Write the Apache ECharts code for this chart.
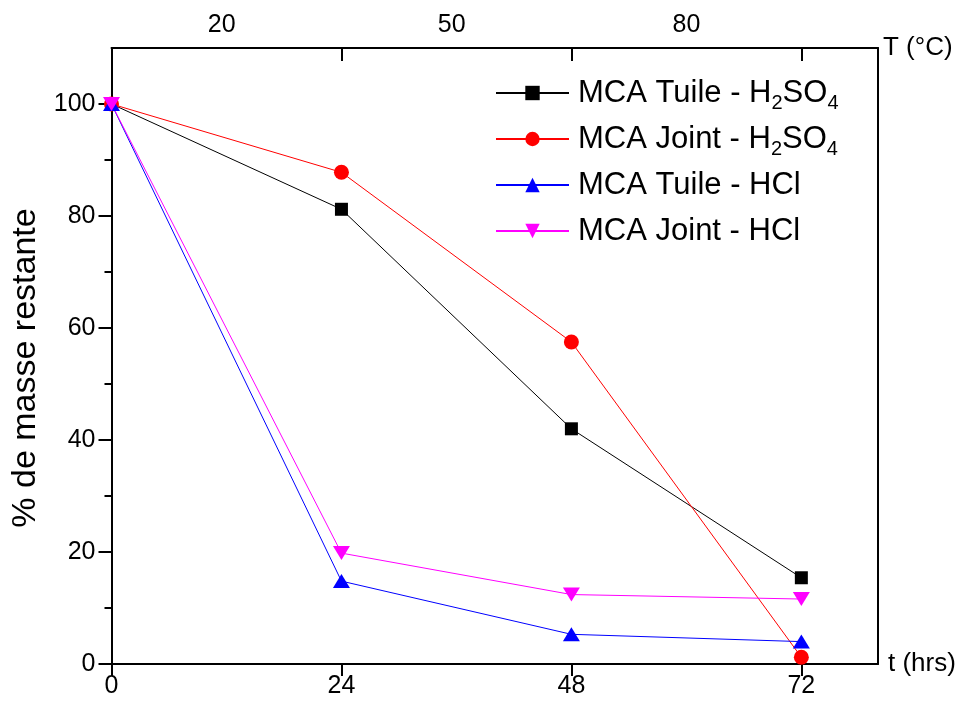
<!DOCTYPE html>
<html>
<head>
<meta charset="utf-8">
<script src="https://cdn.jsdelivr.net/npm/echarts@6/dist/echarts.min.js"></script>
<style>html,body{margin:0;padding:0;background:#fff}#c{width:960px;height:707px}</style>
</head>
<body>
<div id="c"></div>
<script>
const hours = [0, 24, 48, 72];
const tuileH2SO4 = [100, 81.2, 42.0, 15.4];
const jointH2SO4 = [100, 87.8, 57.5, 1.2];
const tuileHCl = [100, 14.8, 5.3, 4.0];
const jointHCl = [100, 19.8, 12.4, 11.6];
const seriesNames = ['MCA Tuile - H2SO4', 'MCA Joint - H2SO4', 'MCA Tuile - HCl', 'MCA Joint - HCl'];
const hourTicks = [0, 24, 48, 72];
const tempTickPos = [24, 48, 72];
const tempLabelPos = [11.5, 35.5, 60];
const tempLabels = ['20', '50', '80'];
const yMajor = [0, 20, 40, 60, 80, 100];
const yMinor = [10, 30, 50, 70, 90];

const FONT = 'Liberation Sans, Arial, sans-serif';
const pairs = vals => hours.map((h, i) => [h, vals[i]]);
const axisLine = { show: true, onZero: false, lineStyle: { color: '#000', width: 2 } };

const chart = echarts.init(document.getElementById('c'));
const mk = (name, vals, color, symbol, size) => ({
  name, type: 'line', data: pairs(vals), xAxisIndex: 0, yAxisIndex: 0,
  symbol, symbolSize: size, showSymbol: true,
  lineStyle: { color, width: 1 }, itemStyle: { color }, z: 3
});
chart.setOption({
  animation: false,
  backgroundColor: '#fff',
  textStyle: { fontFamily: FONT },
  grid: { left: 111.5, right: 82, top: 48, bottom: 43, containLabel: false },
  legend: {
    orient: 'vertical', left: 495, top: 73, padding: 0, itemWidth: 73, itemHeight: 18, itemGap: 6,
    textStyle: { fontFamily: FONT, fontSize: 31, color: '#000', lineHeight: 40, padding: [0, 0, 0, 4],
      rich: { sub: { fontFamily: FONT, fontSize: 20, color: '#000', lineHeight: 18, verticalAlign: 'bottom' } } },
    formatter: n => n.replace(/H2SO4/, 'H{sub|2}SO{sub|4}'),
    data: seriesNames
  },
  xAxis: [{
    type: 'value', position: 'bottom', min: 0, max: 80,
    axisLine, splitLine: { show: false },
    axisTick: { show: true, inside: false, length: 12, customValues: hourTicks, lineStyle: { color: '#000', width: 2 } },
    axisLabel: { customValues: hourTicks, fontSize: 25, color: '#000', margin: 10, fontFamily: FONT },
    name: 't (hrs)', nameLocation: 'end', nameGap: 10,
    nameTextStyle: { fontSize: 26, color: '#000', fontFamily: FONT, verticalAlign: 'middle' }
  }, {
    type: 'value', position: 'top', min: 0, max: 80,
    axisLine, splitLine: { show: false },
    axisTick: { show: true, inside: true, length: 13, customValues: tempTickPos, lineStyle: { color: '#000', width: 2 } },
    axisLabel: { customValues: tempLabelPos, fontSize: 25, color: '#000', margin: 10, fontFamily: FONT,
      formatter: v => tempLabels[tempLabelPos.indexOf(v)] || '' },
    name: 'T (°C)', nameLocation: 'end', nameGap: 5,
    nameTextStyle: { fontSize: 26, color: '#000', fontFamily: FONT, verticalAlign: 'middle' }
  }],
  yAxis: [{
    type: 'value', position: 'left', min: 0, max: 110,
    axisLine, splitLine: { show: false },
    axisTick: { show: true, inside: false, length: 13, customValues: yMajor, lineStyle: { color: '#000', width: 2 } },
    axisLabel: { customValues: yMajor, fontSize: 25, color: '#000', margin: 16, fontFamily: FONT },
    name: '% de masse restante', nameLocation: 'middle', nameGap: 62,
    nameTextStyle: { fontSize: 34, color: '#000', fontFamily: FONT, padding: [0, 24, 0, 0] }
  }, {
    type: 'value', position: 'right', min: 0, max: 110,
    axisLine, splitLine: { show: false }, axisTick: { show: false }, axisLabel: { show: false }
  }, {
    type: 'value', position: 'left', min: 0, max: 110,
    axisLine: { show: false }, splitLine: { show: false },
    axisTick: { show: true, inside: false, length: 7, customValues: yMinor, lineStyle: { color: '#000', width: 2 } },
    axisLabel: { show: false }
  }],
  series: [
    mk(seriesNames[0], tuileH2SO4, '#000000', 'rect', 13),
    mk(seriesNames[1], jointH2SO4, '#ff0000', 'circle', 15),
    mk(seriesNames[2], tuileHCl, '#0000ff', 'triangle', [17, 14]),
    mk(seriesNames[3], jointHCl, '#ff00ff', 'path://M0,0L2,0L1,1.6Z', [17, 14])
  ]
});
</script>
</body>
</html>
